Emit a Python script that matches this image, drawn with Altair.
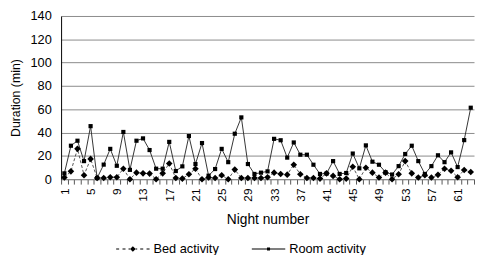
import altair as alt
import pandas as pd

nights = list(range(1, 64))
room_activity = [5, 28.7, 33, 15.5, 45.5, 1, 12.5, 26, 11.5, 40.5,
                 8, 33, 35, 25, 9, 9, 32, 7, 11, 37,
                 13, 31, 3, 8.7, 26, 14.6, 39, 53, 13, 4.5,
                 5.6, 6.7, 34.6, 33.4, 18.5, 31.5, 21, 21, 12.4, 4.5,
                 4.8, 15.5, 4.5, 5.3, 22, 9.3, 29, 15, 12.4, 6,
                 4, 11.2, 21.6, 28.7, 15.5, 4.5, 11.2, 20.5, 14.6, 23,
                 10.4, 33.5, 61.3]
bed_activity = [1.4, 6.7, 26, 3.4, 17.4, 1, 1, 1.7, 1.7, 9,
                0, 5.6, 5, 4.8, 0, 5, 13.5, 1, 0.5, 4.2,
                9, 0, 1.4, 1, 3.4, 0, 8.2, 1, 1, 1,
                1, 1.7, 5.6, 4.5, 3.9, 12.4, 4.2, 1, 1, 0.5,
                5, 2.8, 0, 0.5, 10.7, 0, 9.8, 5.6, 1.4, 5.6,
                0, 4.2, 15.5, 5, 1.4, 3.4, 1.4, 3.7, 9, 7.3,
                1.7, 7.9, 6.2]
series_names = ["Bed activity", "Room activity"]
y_ticks = [0, 20, 40, 60, 80, 100, 120, 140]

rows = []
for n, b, r in zip(nights, bed_activity, room_activity):
    rows.append({"night": n, "series": series_names[0], "value": b})
    rows.append({"night": n, "series": series_names[1], "value": r})
df = pd.DataFrame(rows)

FONT = "Liberation Sans"

x_enc = alt.X(
    "night:O",
    bandPosition=0.5,
    scale=alt.Scale(type="band", paddingInner=0, paddingOuter=0),
    axis=alt.Axis(
        title="Night number", titleFontSize=14, titleFont=FONT, titleFontWeight="normal",
        titleColor="black", titlePadding=12,
        labelAngle=-90, labelFontSize=12, labelFont=FONT, labelColor="black",
        labelExpr="(datum.value - 1) % 4 == 0 ? datum.label : ''",
        labelPadding=4, tickSize=5, tickColor="#555", tickBand="extent",
        domainColor="#888", grid=False, labelOverlap=False,
    ),
)
y_enc = alt.Y(
    "value:Q",
    scale=alt.Scale(domain=[0, 140], nice=False),
    axis=alt.Axis(
        title="Duration (min)", titleFontSize=12.5, titleFont=FONT, titleFontWeight="normal",
        titleColor="black", titlePadding=8,
        values=y_ticks, labelFontSize=13, labelFont=FONT, labelColor="black",
        ticks=False, labelPadding=10, domainColor="black",
        grid=True, gridColor="#8a8a8a", gridWidth=1,
    ),
)

base = alt.Chart(df)
bed = base.transform_filter(alt.datum.series == series_names[0])
room = base.transform_filter(alt.datum.series == series_names[1])

bed_line = bed.mark_line(strokeWidth=1, color="#555555", strokeDash=[3, 2]).encode(x=x_enc, y=y_enc)
room_line = room.mark_line(strokeWidth=1, color="#333333").encode(x=x_enc, y=y_enc)
bed_pts = bed.mark_point(filled=True, opacity=1, color="black", shape="diamond", size=45).encode(x=x_enc, y=y_enc)
room_pts = room.mark_point(filled=True, opacity=1, color="black", shape="square", size=18).encode(x=x_enc, y=y_enc)

# legend glyphs: line drawn as thin filled rectangles plus the marker
h = 0.035
def rect(a, b):
    return f"M{a},{-h}L{b},{-h}L{b},{h}L{a},{h}Z"

bed_path = (rect(-1, -0.82) + rect(-0.62, -0.44) + rect(-0.26, -0.17)
            + "M0,-0.17L0.17,0L0,0.17L-0.17,0Z"
            + rect(0.17, 0.26) + rect(0.44, 0.62) + rect(0.82, 1))
room_path = rect(-1, 1) + "M-0.09,-0.09L0.09,-0.09L0.09,0.09L-0.09,0.09Z"

legend_layer = base.transform_filter("datum.night == 1").mark_point(
    filled=True, color="black", opacity=1, size=0
).encode(
    x=x_enc,
    y=y_enc,
    shape=alt.Shape(
        "series:N",
        scale=alt.Scale(domain=series_names, range=[bed_path, room_path]),
        legend=alt.Legend(
            title=None, orient="none", legendX=56, legendY=220, direction="horizontal",
            labelFont=FONT, labelFontSize=13, labelColor="black", labelOffset=4,
            columnPadding=33, symbolSize=1156, symbolStrokeWidth=0,
            symbolFillColor="black", symbolOpacity=1,
        ),
    ),
)

chart = alt.layer(bed_line, room_line, bed_pts, room_pts, legend_layer).properties(
    width=420, height=166,
    autosize=alt.AutoSizeParams(type="none"),
    padding={"left": 54, "top": 6, "right": 1, "bottom": 75},
    background="white",
).configure_view(stroke=None)

chart.save("out.html", embed_options={"renderer": "svg", "actions": False})
